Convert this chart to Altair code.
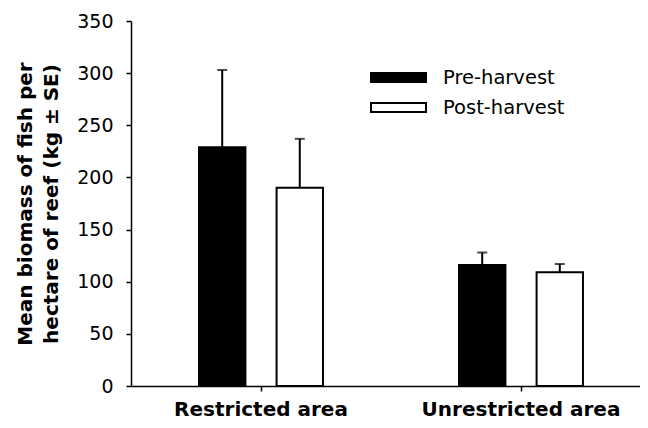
import altair as alt
import pandas as pd

areas = ["Restricted area", "Unrestricted area"]
periods = ["Pre-harvest", "Post-harvest"]
pre_mean = [229, 116]
post_mean = [190, 109]
pre_se = [74, 12]
post_se = [47, 8]
y_ticks = [0, 50, 100, 150, 200, 250, 300, 350]
y_title = ["Mean biomass of fish per", "hectare of reef (kg \u00b1 SE)"]

rows = []
for i, a in enumerate(areas):
    rows.append(dict(area=a, period=periods[0], mean=pre_mean[i], upper=pre_mean[i] + pre_se[i]))
    rows.append(dict(area=a, period=periods[1], mean=post_mean[i], upper=post_mean[i] + post_se[i]))
df = pd.DataFrame(rows)

FONT = "DejaVu Sans"

x = alt.X(
    "area:N",
    sort=areas,
    scale=alt.Scale(range=[0, 520], paddingInner=0, paddingOuter=0),
    axis=alt.Axis(
        title=None, labelFont=FONT, labelFontSize=20, labelFontWeight="bold",
        labelColor="black", labelPadding=24, labelBaseline="alphabetic",
        tickSize=5, tickColor="black",
        tickWidth=1.5, domainColor="black", domainWidth=1.5, labelAngle=0,
        labelLimit=400,
    ),
)
xo = alt.XOffset("period:N", sort=periods,
                 scale=alt.Scale(paddingInner=0.402, paddingOuter=0.877))


def yenc(field):
    return alt.Y(
        field,
        scale=alt.Scale(domain=[0, 350], nice=False),
        axis=alt.Axis(
            values=y_ticks, title=y_title, grid=False,
            labelFont=FONT, labelFontSize=19, labelColor="black", labelPadding=13,
            tickSize=5, tickColor="black", tickWidth=1.5,
            domainColor="black", domainWidth=1.5,
            titleFont=FONT, titleFontSize=20, titleFontWeight="bold",
            titleColor="black", titleLineHeight=26, titleX=-116, titleY=182.5,
            titleAngle=270, titleAlign="center", titleBaseline="top",
        ),
    )


legend_path = "M-1,-0.16L1,-0.16L1,0.16L-1,0.16Z"

bars = alt.Chart(df).mark_bar(stroke="black", strokeWidth=2).encode(
    x=x,
    xOffset=xo,
    y=yenc("mean:Q"),
    fill=alt.Fill(
        "period:N",
        sort=periods,
        scale=alt.Scale(domain=periods, range=["black", "white"]),
        legend=alt.Legend(
            title=None, orient="none", legendX=239, legendY=47,
            symbolType=legend_path, symbolSize=3025,
            symbolStrokeColor="black", symbolStrokeWidth=2,
            labelFont=FONT, labelFontSize=19.5, labelColor="black",
            labelOffset=16, clipHeight=19, rowPadding=10, padding=0,
            labelLimit=300,
        ),
    ),
)

rules = alt.Chart(df).mark_rule(color="black", strokeWidth=2).encode(
    x=x, xOffset=xo, y=yenc("mean:Q"), y2="upper:Q"
)

caps = alt.Chart(df).mark_tick(color="black", size=10, thickness=2).encode(
    x=x, xOffset=xo, y=yenc("upper:Q")
)

chart = (
    alt.layer(bars, rules, caps)
    .properties(
        width=509,
        height=365,
        autosize=alt.AutoSizeParams(type="none"),
        padding={"left": 123, "top": 13, "right": 0, "bottom": 34},
        background="white",
    )
    .configure_view(stroke=None)
)

chart.save("out.html", embed_options={"renderer": "svg", "actions": False})
